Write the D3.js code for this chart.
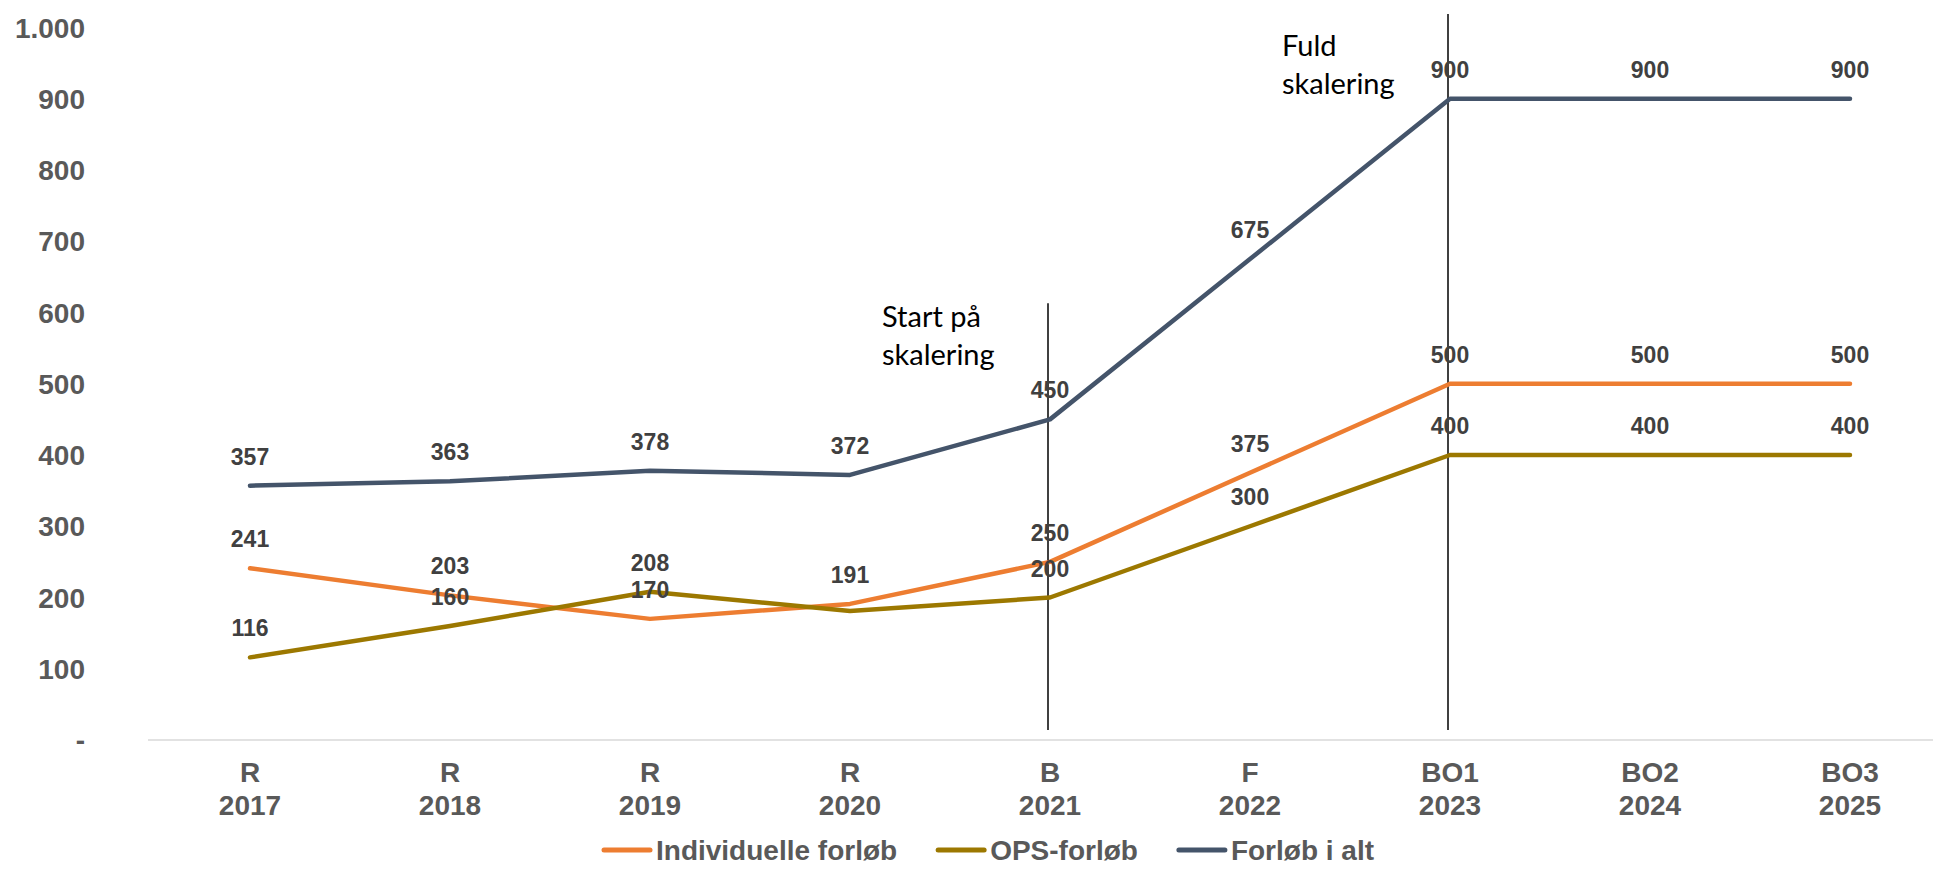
<!DOCTYPE html>
<meta charset="utf-8">
<html>
<style>
  body {
    margin: 0;
    background: #fff;
  }

  .chart text {
    font-family: "Liberation Sans", Arial, sans-serif;
    font-weight: bold;
  }

  .axis text {
    fill: #595959;
    font-size: 28px;
  }

  .chart .label {
    fill: #404040;
    font-size: 23px;
    text-anchor: middle;
  }

  .chart .note {
    font-family: Lato, "Open Sans", sans-serif;
    font-weight: normal;
    font-size: 29px;
    fill: #000;
  }
</style>
<script type="text/javascript" src="https://cdn.jsdelivr.net/npm/d3@7/dist/d3.min.js"></script>

<body>
  <svg class="chart"></svg>
</body>
<script>
  var width = 1933;
  var height = 869;

  var categories = ["R|2017", "R|2018", "R|2019", "R|2020", "B|2021", "F|2022", "BO1|2023", "BO2|2024", "BO3|2025"];
  var individuelle = [241, 203, 170, 191, 250, 375, 500, 500, 500];
  var ops = [116, 160, 208, 181, 200, 300, 400, 400, 400];
  var total = [357, 363, 378, 372, 450, 675, 900, 900, 900];
  var seriesNames = ["Individuelle forløb", "OPS-forløb", "Forløb i alt"];
  var colors = ["#ED7D31", "#9C7800", "#44546A"];
  var yTicks = [0, 100, 200, 300, 400, 500, 600, 700, 800, 900, 1000];
  // the OPS value for 2020 has no label in the original
  var hiddenLabels = [[1, 3]];
  var markers = [
    { cat: "B|2021", top: 613, bottom: 14, note: ["Start på", "skalering"], noteY: 580 },
    { cat: "BO1|2023", top: 1019, bottom: 14, note: ["Fuld", "skalering"], noteY: 960 }
  ];

  var series = [individuelle, ops, total];

  var x = d3.scaleBand().domain(categories).range([150, 1950]);
  var y = d3.scaleLinear().domain([0, 1000]).range([740, 27.5]);

  function cx(c) {
    return x(c) + x.bandwidth() / 2;
  }

  var chart = d3.select(".chart")
    .attr("width", width)
    .attr("height", height);

  // x axis line
  chart.append("line")
    .attr("x1", 148).attr("x2", width)
    .attr("y1", y(0)).attr("y2", y(0))
    .attr("stroke", "#D9D9D9")
    .attr("stroke-width", 1.5);

  // y axis labels
  var fmt = d3.formatLocale({ decimal: ",", thousands: ".", grouping: [3], currency: ["", " kr."] }).format(",d");
  var yAxis = chart.append("g").attr("class", "axis");
  yAxis.selectAll("text")
    .data(yTicks)
    .enter().append("text")
    .attr("x", 85)
    .attr("y", function(d) { return y(d); })
    .attr("dy", "0.36em")
    .attr("text-anchor", "end")
    .text(function(d) { return d === 0 ? "-" : fmt(d); });

  // x axis labels
  var xAxis = chart.append("g").attr("class", "axis");
  var xl = xAxis.selectAll("text")
    .data(categories)
    .enter().append("text")
    .attr("text-anchor", "middle")
    .attr("transform", function(d) { return "translate(" + cx(d) + "," + (y(0) + 42) + ")"; });
  xl.append("tspan").attr("x", 0).attr("y", 0).text(function(d) { return d.split("|")[0]; });
  xl.append("tspan").attr("x", 0).attr("y", 33).text(function(d) { return d.split("|")[1]; });

  // marker lines and notes
  markers.forEach(function(m) {
    chart.append("line")
      .attr("x1", cx(m.cat) - 2).attr("x2", cx(m.cat) - 2)
      .attr("y1", y(m.top)).attr("y2", y(m.bottom))
      .attr("stroke", "#000")
      .attr("stroke-width", 1.5);
    var t = chart.append("text")
      .attr("class", "note")
      .attr("x", cx(m.cat) - 168)
      .attr("y", y(m.noteY));
    m.note.forEach(function(s, i) {
      t.append("tspan").attr("x", cx(m.cat) - 168).attr("dy", i === 0 ? 0 : 38).text(s);
    });
  });

  // lines
  var line = d3.line()
    .x(function(d, i) { return cx(categories[i]); })
    .y(function(d) { return y(d); });

  chart.selectAll("path.series")
    .data(series)
    .enter().append("path")
    .attr("class", "series")
    .attr("d", line)
    .attr("fill", "none")
    .attr("stroke", function(d, i) { return colors[i]; })
    .attr("stroke-width", 4.5)
    .attr("stroke-linejoin", "round")
    .attr("stroke-linecap", "round");

  // data labels
  series.forEach(function(s, si) {
    chart.selectAll(null)
      .data(s.map(function(v, i) { return { v: v, i: i }; }).filter(function(d) {
        return !hiddenLabels.some(function(h) { return h[0] === si && h[1] === d.i; });
      }))
      .enter().append("text")
      .attr("class", "label")
      .attr("x", function(d) { return cx(categories[d.i]); })
      .attr("y", function(d) { return y(d.v) - 21; })
      .text(function(d) { return d.v; });
  });

  // legend
  var legend = chart.append("g").attr("class", "axis");
  var ly = 850;
  var lx = 604;
  seriesNames.forEach(function(n, i) {
    legend.append("line")
      .attr("x1", lx).attr("x2", lx + 46)
      .attr("y1", ly).attr("y2", ly)
      .attr("stroke", colors[i])
      .attr("stroke-width", 5)
      .attr("stroke-linecap", "round");
    var t = legend.append("text")
      .attr("x", lx + 52)
      .attr("y", ly)
      .attr("dy", "0.36em")
      .text(n);
    lx += 52 + t.node().getComputedTextLength() + 41;
  });
</script>

</html>
